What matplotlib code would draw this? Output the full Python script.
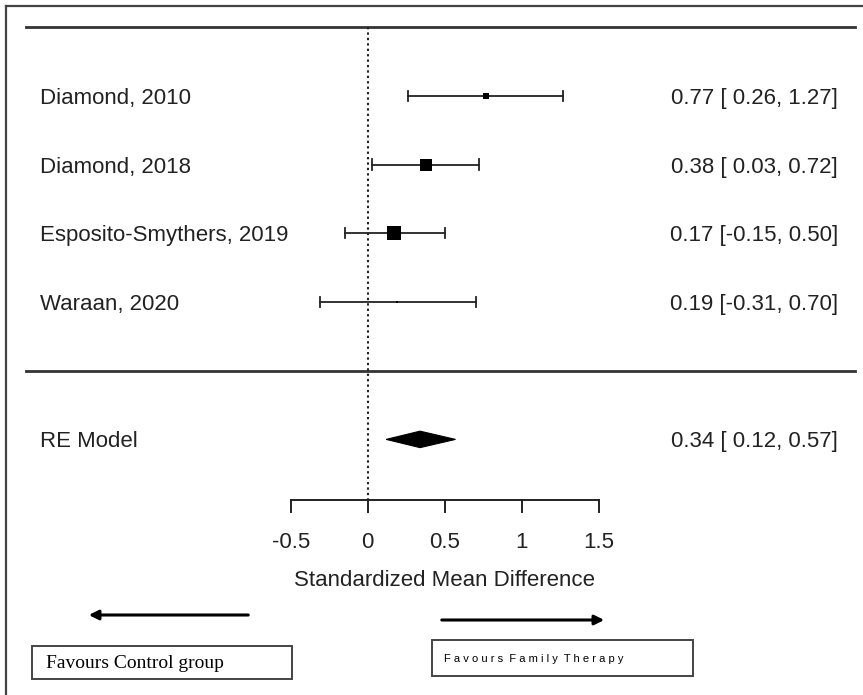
import matplotlib
matplotlib.use("Agg")
from matplotlib import pyplot as plt
from matplotlib.patches import Polygon, Rectangle
import numpy as np

# study data
studies = ["Diamond, 2010", "Diamond, 2018", "Esposito-Smythers, 2019", "Waraan, 2020"]
est = [0.77, 0.38, 0.17, 0.19]
ci_lo = [0.26, 0.03, -0.15, -0.31]
ci_hi = [1.27, 0.72, 0.50, 0.70]
weights = [5, 28, 33, 1]

# pooled random effects estimate
re_label = "RE Model"
re_est = 0.34
re_lo = 0.12
re_hi = 0.57

ticks = [-0.5, 0, 0.5, 1, 1.5]
tick_labels = ["-0.5", "0", "0.5", "1", "1.5"]
xlabel = "Standardized Mean Difference"
left_note = "Favours Control group"
right_note = "F a v o u r s  F a m i l y  T h e r a p y"

plt.rcParams['font.family'] = ['Liberation Sans', 'DejaVu Sans']
txt_col = '#222222'
line_col = '#333333'
fs = 16

fig = plt.figure(figsize=(8.63, 6.95), dpi=100)
ax = fig.add_axes([0, 0, 1, 1])
ax.axis('off')

# pixel -> data mapping: x is effect size, y is row number
px_per_unit = 154.0
x0_px = 367.7
row_px = 68.7
row1_px = 302.0
ax.set_xlim((0 - x0_px) / px_per_unit, (863 - x0_px) / px_per_unit)
ax.set_ylim(1 - (695 - row1_px) / row_px, 1 + row1_px / row_px)

def px2x(p):
    return (p - x0_px) / px_per_unit

def px2y(p):
    return 1 - (p - row1_px) / row_px

k = len(studies)
rows = np.arange(k, 0, -1)
txt_dy = 2.5 / row_px  # labels sit a touch lower than the bars

# frame (left and top only, picture is cropped)
ax.plot([px2x(6), px2x(6)], [px2y(6), px2y(700)], color='#444444', lw=1.6, clip_on=False)
ax.plot([px2x(6), px2x(870)], [px2y(6), px2y(6)], color='#444444', lw=1.6, clip_on=False)

# header and separator lines
xl, xr = px2x(26), px2x(855)
ax.plot([xl, xr], [k + 1, k + 1], color=line_col, lw=2.0)
ax.plot([xl, xr], [0, 0], color=line_col, lw=2.0)

axis_y = px2y(500)
# reference line at 0
ax.plot([0, 0], [k + 1, axis_y], color=txt_col, lw=1.5, linestyle=(0, (1.1, 1.5)))

cap = 0.075
for i in range(k):
    y = rows[i]
    ax.plot([ci_lo[i], ci_hi[i]], [y, y], color=txt_col, lw=1.3)
    ax.plot([ci_lo[i], ci_lo[i]], [y - cap, y + cap], color=txt_col, lw=1.3)
    ax.plot([ci_hi[i], ci_hi[i]], [y - cap, y + cap], color=txt_col, lw=1.3)
    side = 2.45 * np.sqrt(weights[i]) * 0.72
    ax.plot(est[i], y, marker='s', color='black', markersize=side, markeredgewidth=0)
    ax.text(px2x(40), y - txt_dy, studies[i], ha='left', va='center', fontsize=fs, color=txt_col)
    ax.text(px2x(838), y - txt_dy, f"{est[i]:.2f} [{ci_lo[i]:5.2f}, {ci_hi[i]:.2f}]",
            ha='right', va='center', fontsize=fs, color=txt_col)

# pooled diamond
h = 0.12
diamond = Polygon([[re_lo, -1], [re_est, -1 + h], [re_hi, -1], [re_est, -1 - h]],
                  closed=True, facecolor='black', edgecolor='black', lw=0.8)
ax.add_patch(diamond)
ax.text(px2x(40), -1 - txt_dy, re_label, ha='left', va='center', fontsize=fs, color=txt_col)
ax.text(px2x(838), -1 - txt_dy, f"{re_est:.2f} [{re_lo:5.2f}, {re_hi:.2f}]",
        ha='right', va='center', fontsize=fs, color=txt_col)

# x axis drawn by hand, metafor style
tick_len = 12 / row_px
ax.plot([ticks[0], ticks[-1]], [axis_y, axis_y], color=txt_col, lw=1.4)
for t, lab in zip(ticks, tick_labels):
    ax.plot([t, t], [axis_y, axis_y - tick_len], color=txt_col, lw=1.4)
    ax.text(t, px2y(542), lab, ha='center', va='center', fontsize=fs, color=txt_col)
ax.text(np.mean([ticks[0], ticks[-1]]), px2y(580), xlabel, ha='center', va='center',
        fontsize=fs, color=txt_col)

# direction arrows
ax.annotate("", xy=(px2x(86), px2y(615)), xytext=(px2x(251), px2y(615)),
            arrowprops=dict(arrowstyle='-|>', color='black', lw=2.2, mutation_scale=14))
ax.annotate("", xy=(px2x(607), px2y(620)), xytext=(px2x(439), px2y(620)),
            arrowprops=dict(arrowstyle='-|>', color='black', lw=2.2, mutation_scale=14))

# boxes under arrows
ax.add_patch(Rectangle((px2x(32), px2y(679)), px2x(292) - px2x(32), px2y(646) - px2y(679),
                       fill=False, edgecolor='#444444', lw=1.4))
ax.add_patch(Rectangle((px2x(432), px2y(676)), px2x(693) - px2x(432), px2y(640) - px2y(676),
                       fill=False, edgecolor='#444444', lw=1.4))
ax.text(px2x(46), px2y(663), left_note, ha='left', va='center', fontsize=14,
        family=['Liberation Serif', 'DejaVu Serif'], color='black')
ax.text(px2x(444), px2y(659), right_note, ha='left', va='center', fontsize=8,
        color='black')

fig.savefig("out.png", dpi=100)
